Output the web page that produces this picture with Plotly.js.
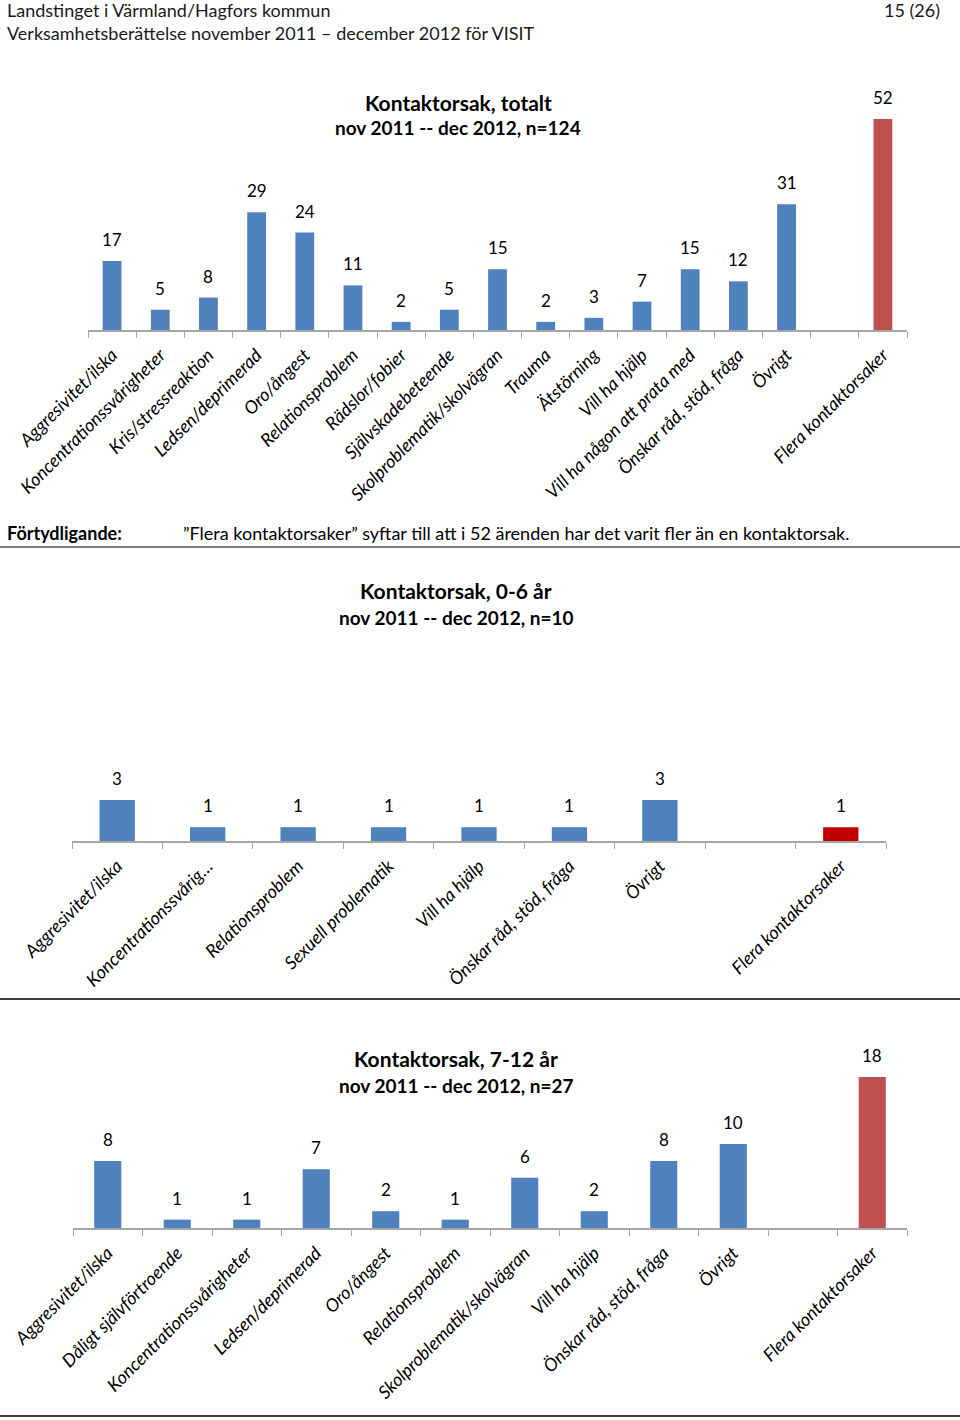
<!DOCTYPE html>
<html>
<head>
<meta charset="utf-8">
<script src="https://cdn.plot.ly/plotly-3.0.1.min.js"></script>
<style>html,body{margin:0;padding:0;background:#fff}#c{width:960px;height:1420px}</style>
</head>
<body>
<div id="c"></div>
<script>
// ---- Data ----
const cats1 = ["Aggresivitet/ilska","Koncentrationssvårigheter","Kris/stressreaktion","Ledsen/deprimerad","Oro/ångest","Relationsproblem","Rädslor/fobier","Självskadebeteende","Skolproblematik/skolvägran","Trauma","Ätstörning","Vill ha hjälp","Vill ha någon att prata med","Önskar råd, stöd, fråga","Övrigt"," ","Flera kontaktorsaker"];
const vals1 = [17,5,8,29,24,11,2,5,15,2,3,7,15,12,31,null,52];

const cats2 = ["Aggresivitet/ilska","Koncentrationssvårig…","Relationsproblem","Sexuell problematik","Vill ha hjälp","Önskar råd, stöd, fråga","Övrigt"," ","Flera kontaktorsaker"];
const vals2 = [3,1,1,1,1,1,3,null,1];

const cats3 = ["Aggresivitet/ilska","Dåligt självförtroende","Koncentrationssvårigheter","Ledsen/deprimerad","Oro/ångest","Relationsproblem","Skolproblematik/skolvägran","Vill ha hjälp","Önskar råd, stöd, fråga","Övrigt"," ","Flera kontaktorsaker"];
const vals3 = [8,1,1,7,2,1,6,2,8,10,null,18];

const header1 = "Landstinget i Värmland/Hagfors kommun";
const header2 = "Verksamhetsberättelse november 2011 – december 2012 för VISIT";
const pageNo = "15 (26)";
const titles = [
  ["Kontaktorsak, totalt","nov 2011 -- dec 2012, n=124"],
  ["Kontaktorsak, 0-6 år","nov 2011 -- dec 2012, n=10"],
  ["Kontaktorsak, 7-12 år","nov 2011 -- dec 2012, n=27"]
];
const noteLabel = "Förtydligande:";
const noteText = "”Flera kontaktorsaker” syftar till att i 52 ärenden har det varit fler än en kontaktorsak.";

// ---- Styling ----
const W = 960, H = 1420;
const FONT = "Lato, 'Open Sans', sans-serif";
const BLUE = "#4F81BD";
const px = x => x / W;
const py = y => 1 - y / H;

function colors(cats, red) {
  return cats.map(c => c === "Flera kontaktorsaker" ? red : BLUE);
}

const charts = [
  {cats: cats1, vals: vals1, red: "#C0504D", xd: [88, 907], yb: 330, yt: 119, max: 52, tx: 458, ty: [102, 128]},
  {cats: cats2, vals: vals2, red: "#C00000", xd: [72, 886], yb: 841, yt: 800, max: 3, tx: 456, ty: [590, 617]},
  {cats: cats3, vals: vals3, red: "#C0504D", xd: [73, 907], yb: 1228, yt: 1077, max: 18, tx: 456, ty: [1058, 1085]}
];

const data = [];
const layout = {
  width: W, height: H,
  margin: {l: 0, r: 0, t: 0, b: 0},
  paper_bgcolor: "#fff", plot_bgcolor: "rgba(0,0,0,0)",
  showlegend: false,
  bargap: 0.61,
  font: {family: FONT, color: "#000"},
  annotations: [],
  shapes: []
};

charts.forEach((c, i) => {
  const n = i === 0 ? "" : String(i + 1);
  data.push({
    type: "bar",
    x: c.cats, y: c.vals,
    xaxis: "x" + n, yaxis: "y" + n,
    marker: {color: colors(c.cats, c.red)},
    hoverinfo: "x+y"
  });
  layout["xaxis" + n] = {
    domain: [px(c.xd[0]), px(c.xd[1])],
    anchor: "y" + n,
    type: "category",
    categoryorder: "array", categoryarray: c.cats,
    showline: true, linecolor: "#A6A6A6", linewidth: 1.5,
    ticks: "outside", tickson: "boundaries", ticklen: 6, tickcolor: "#A6A6A6",
    tickangle: -45,
    ticklabelstandoff: 6,
    tickfont: {family: FONT, size: 18, style: "italic", color: "#000"},
    showgrid: false, zeroline: false, fixedrange: true
  };
  layout["yaxis" + n] = {
    domain: [py(c.yb), py(c.yt)],
    anchor: "x" + n,
    range: [0, c.max],
    visible: false, showgrid: false, zeroline: false, fixedrange: true
  };
  // value labels
  c.cats.forEach((cat, j) => {
    if (c.vals[j] == null) return;
    layout.annotations.push({
      xref: "x" + n, yref: "y" + n, x: cat, y: c.vals[j],
      text: String(c.vals[j]), showarrow: false,
      yanchor: "bottom", yshift: 9,
      font: {family: FONT, size: 17, color: "#000"}
    });
  });
  // titles
  layout.annotations.push({
    xref: "paper", yref: "paper", x: px(c.tx), y: py(c.ty[0]),
    xanchor: "center", yanchor: "middle", showarrow: false,
    text: "<b>" + titles[i][0] + "</b>", font: {family: FONT, size: 21, color: "#000"}
  });
  layout.annotations.push({
    xref: "paper", yref: "paper", x: px(c.tx), y: py(c.ty[1]),
    xanchor: "center", yanchor: "middle", showarrow: false,
    text: "<b>" + titles[i][1] + "</b>", font: {family: FONT, size: 19, color: "#000"}
  });
});

// header & notes
layout.annotations.push(
  {xref: "paper", yref: "paper", x: px(5), y: py(10), xanchor: "left", yanchor: "middle", showarrow: false,
   text: header1, font: {family: FONT, size: 18, color: "#1a1a1a"}},
  {xref: "paper", yref: "paper", x: px(942), y: py(10), xanchor: "right", yanchor: "middle", showarrow: false,
   text: pageNo, font: {family: FONT, size: 18, color: "#1a1a1a"}},
  {xref: "paper", yref: "paper", x: px(5), y: py(33), xanchor: "left", yanchor: "middle", showarrow: false,
   text: header2, font: {family: FONT, size: 18, color: "#1a1a1a"}},
  {xref: "paper", yref: "paper", x: px(5), y: py(533), xanchor: "left", yanchor: "middle", showarrow: false,
   text: "<b>" + noteLabel + "</b>", font: {family: FONT, size: 18, color: "#000"}},
  {xref: "paper", yref: "paper", x: px(181), y: py(533), xanchor: "left", yanchor: "middle", showarrow: false,
   text: noteText, font: {family: FONT, size: 18, color: "#000"}}
);

[[547, "#7F7F7F"], [999, "#404040"], [1416, "#404040"]].forEach(([y, col]) => {
  layout.shapes.push({type: "line", xref: "paper", yref: "paper", x0: 0, x1: 1, y0: py(y), y1: py(y),
    line: {color: col, width: 2}});
});

Plotly.newPlot("c", data, layout, {displayModeBar: false, staticPlot: true});
</script>
</body>
</html>
